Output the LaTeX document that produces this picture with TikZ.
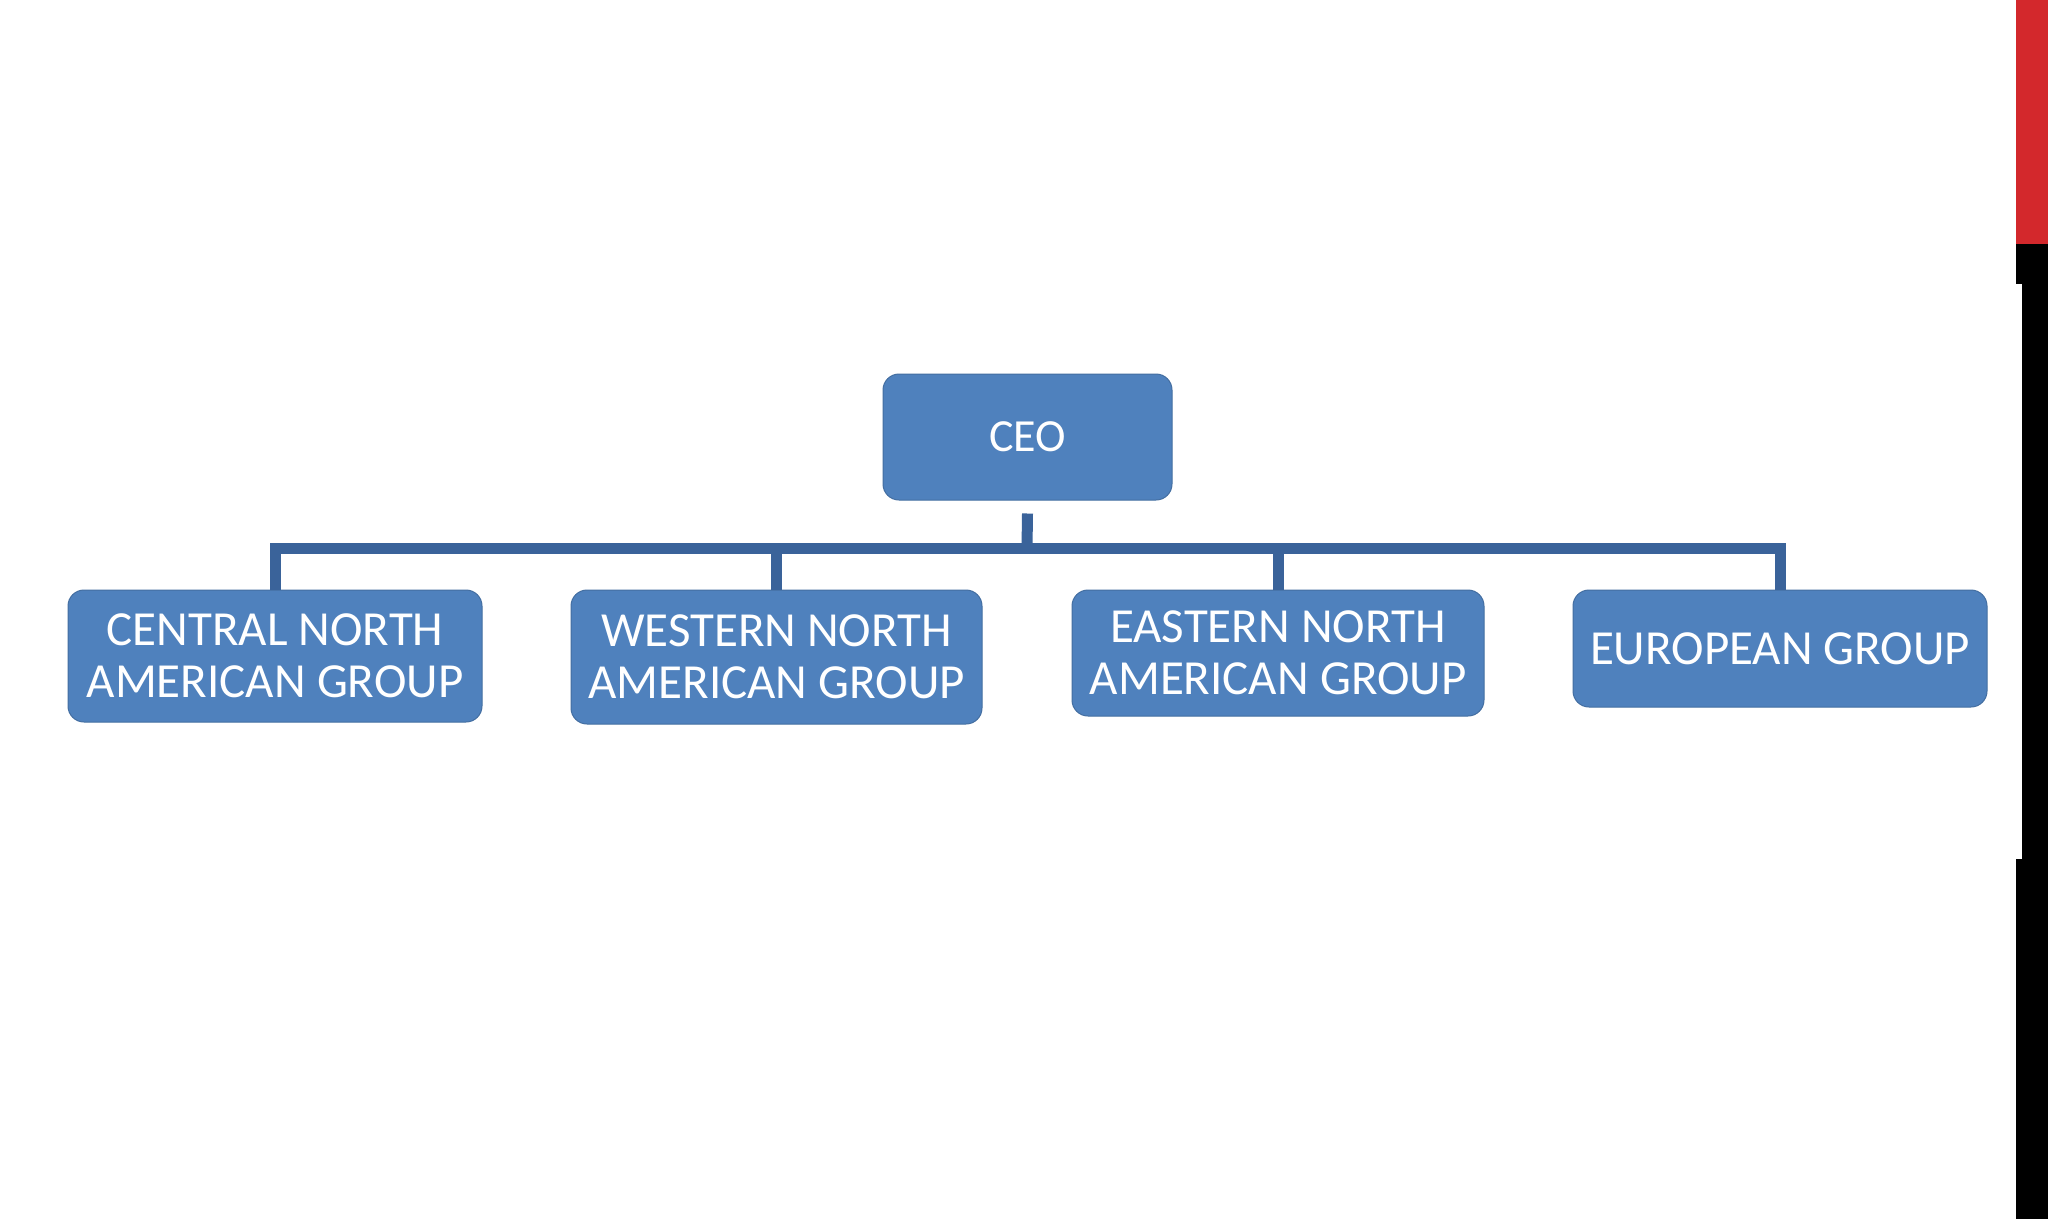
\documentclass[tikz,border=0pt]{standalone}
\usepackage{fontspec}
\setmainfont{Carlito}
\definecolor{boxblue}{HTML}{4F81BD}
\definecolor{linkblue}{HTML}{3A639A}
\definecolor{barred}{HTML}{D3282C}
\begin{document}
\begin{tikzpicture}[x=1pt,y=-1pt,
  orgbox/.style={fill=boxblue, draw=boxblue!85!black, line width=1pt, rounded corners=16pt, text=white, align=center, inner sep=0pt, font=\fontsize{49}{52}\selectfont},
  link/.style={draw=linkblue, line width=11pt}]
\useasboundingbox (0,0) rectangle (2048,1219);
\fill[white] (0,0) rectangle (2048,1219);
% right edge bars
\fill[barred] (2016,0) rectangle (2048,244);
\fill[black] (2016,244) rectangle (2048,1219);
\fill[white] (2016,284) rectangle (2022,859);
% nodes
\node[orgbox, minimum width=289pt, minimum height=126pt, font=\fontsize{46}{50}\selectfont] (ceo) at (1027.5,437) {CEO};
\node[orgbox, minimum width=414pt, minimum height=132pt] (c1) at (275,656) {CENTRAL NORTH\\AMERICAN GROUP};
\node[orgbox, minimum width=411pt, minimum height=134pt] (c2) at (776.5,657) {WESTERN NORTH\\AMERICAN GROUP};
\node[orgbox, minimum width=412pt, minimum height=126pt] (c3) at (1278,653) {EASTERN NORTH\\AMERICAN GROUP};
\node[orgbox, minimum width=414pt, minimum height=117pt] (c4) at (1780,648.5) {EUROPEAN GROUP};
% connectors
\coordinate (ceoj) at (1027,548);
\draw[link] ([yshift=-13pt]ceo.south) -- (ceoj);
\draw[link, line join=miter] (c1.north) -- (c1.north |- ceoj) -- (c4.north |- ceoj) -- (c4.north);
\draw[link] (c2.north) -- (c2.north |- ceoj);
\draw[link] (c3.north) -- (c3.north |- ceoj);
\end{tikzpicture}
\end{document}
